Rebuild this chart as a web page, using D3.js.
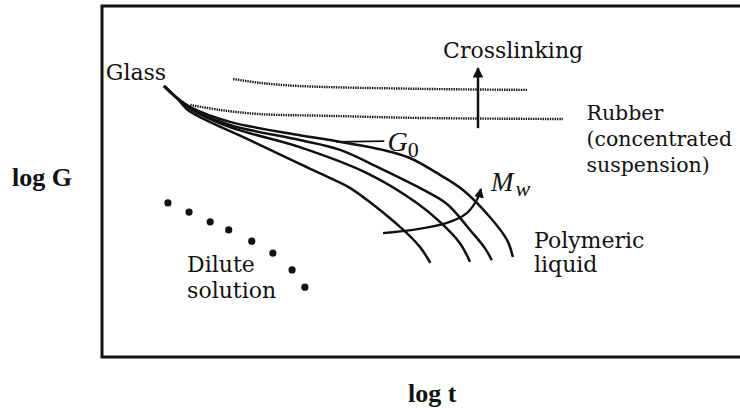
<!DOCTYPE html>
<html>
<head>
<meta charset="utf-8">
<script src="https://cdn.jsdelivr.net/npm/d3@7"></script>
<style>
  body { margin:0; background:#fff; }
  svg text { font-family:"DejaVu Serif",serif; fill:#111; }
  svg text.times { font-family:"Liberation Serif","Times New Roman",serif; }
</style>
</head>
<body>
<svg id="chart"></svg>
<script>
// values in (log t, log G) units, 0..10 on both axes

// polymeric liquid curves, lowest Mw first
var curveD = [[0.97,7.72],[1.17,7.38],[1.34,7.04],[2.31,6.18],[3.09,5.50],[3.56,5.10],[3.88,4.81],[4.66,3.70],[4.97,3.13],[5.13,2.68]];
var curveC = [[0.97,7.72],[1.17,7.38],[1.38,7.07],[2.00,6.55],[3.09,5.98],[4.14,5.24],[4.92,4.39],[5.28,3.85],[5.59,3.25],[5.75,2.71]];
var curveB = [[0.97,7.72],[1.17,7.38],[1.38,7.09],[2.00,6.61],[3.09,6.18],[3.72,5.90],[4.34,5.38],[4.97,4.81],[5.39,4.36],[5.75,3.62],[5.98,3.11],[6.09,2.76]];
var curveA = [[0.97,7.72],[1.17,7.38],[1.38,7.12],[2.00,6.70],[3.09,6.32],[3.56,6.18],[4.39,5.90],[4.81,5.67],[5.28,5.19],[5.64,4.76],[6.06,3.99],[6.33,3.33],[6.42,2.85]];
var liquidCurves = [curveD, curveC, curveB, curveA];

// rubber plateaus (dotted)
var rubberHigh = [[2.05,7.92],[2.47,7.81],[3.09,7.72],[4.97,7.64],[6.64,7.61]];
var rubberLow = [[1.38,7.18],[1.84,7.04],[2.47,6.92],[3.56,6.87],[4.97,6.81],[7.20,6.78]];

// dilute solution points
var diluteT = [1.03,1.36,1.69,1.98,2.34,2.67,2.97,3.17];
var diluteG = [4.39,4.13,3.85,3.62,3.30,2.96,2.48,1.99];

// arrows
var mwArrow = [[4.39,3.53],[4.86,3.62],[5.39,3.82],[5.70,4.10],[5.88,4.56],[5.92,4.79]];
var crossArrow = [[5.875,6.52],[5.875,8.23]];
var g0Pointer = [[3.66,6.13],[4.41,6.15]];

// plain labels: text, log t, log G
var labels = [
  ["Glass",0.06,7.89],
  ["Crosslinking",5.33,8.52],
  ["Dilute",1.33,2.42],
  ["solution",1.33,1.68],
  ["Polymeric",6.75,3.11],
  ["liquid",6.75,2.42]
];
var rubberLabels = [
  ["Rubber",7.57,6.75],
  ["(concentrated",7.57,6.01],
  ["suspension)",7.57,5.27]
];

var screen = {width:740, height:412};
var box = {left:102, top:6, right:745, bottom:357};

var svg = d3.select("#chart")
  .attr("width", screen.width)
  .attr("height", screen.height);

var xScale = d3.scaleLinear().domain([0,10]).range([box.left, 742]);
var yScale = d3.scaleLinear().domain([0,10]).range([box.bottom, box.top]);

svg.append("defs").append("marker")
  .attr("id","head")
  .attr("viewBox","0 0 10 10")
  .attr("refX",9).attr("refY",5)
  .attr("markerWidth",4.2).attr("markerHeight",4.2)
  .attr("orient","auto")
  .append("path")
  .attr("d","M0,0 L10,5 L0,10 z")
  .attr("fill","#111");

// frame
svg.append("rect")
  .attr("x",box.left).attr("y",box.top)
  .attr("width",box.right-box.left).attr("height",box.bottom-box.top)
  .attr("fill","none").attr("stroke","#111").attr("stroke-width",3);

var line = d3.line()
  .x(function(d){return xScale(d[0]);})
  .y(function(d){return yScale(d[1]);})
  .curve(d3.curveCatmullRom.alpha(0.5));

svg.selectAll(".liquid")
  .data(liquidCurves)
  .enter()
  .append("path")
  .attr("class","liquid")
  .attr("d",line)
  .attr("fill","none").attr("stroke","#111").attr("stroke-width",2.5);

svg.selectAll(".rubber")
  .data([rubberHigh, rubberLow])
  .enter()
  .append("path")
  .attr("class","rubber")
  .attr("d",line)
  .attr("fill","none").attr("stroke","#111")
  .attr("stroke-width",2.4).attr("stroke-dasharray","1.4,1");

svg.selectAll(".dilute")
  .data(diluteT)
  .enter()
  .append("circle")
  .attr("cx",function(d){return xScale(d);})
  .attr("cy",function(d,i){return yScale(diluteG[i]);})
  .attr("r",3.6)
  .attr("fill","#111");

svg.append("path").attr("d",line(mwArrow))
  .attr("fill","none").attr("stroke","#111").attr("stroke-width",2.3)
  .attr("marker-end","url(#head)");

svg.append("path").attr("d",d3.line()(crossArrow.map(function(d){return [xScale(d[0]),yScale(d[1])];})))
  .attr("fill","none").attr("stroke","#111").attr("stroke-width",2.5)
  .attr("marker-end","url(#head)");

svg.append("path").attr("d",d3.line()(g0Pointer.map(function(d){return [xScale(d[0]),yScale(d[1])];})))
  .attr("fill","none").attr("stroke","#111").attr("stroke-width",1.6);

svg.selectAll(".lab")
  .data(labels)
  .enter()
  .append("text")
  .attr("class","lab")
  .attr("x",function(d){return xScale(d[1]);})
  .attr("y",function(d){return yScale(d[2]);})
  .attr("font-size",22)
  .text(function(d){return d[0];});

svg.selectAll(".rlab")
  .data(rubberLabels)
  .enter()
  .append("text")
  .attr("class","rlab")
  .attr("x",function(d){return xScale(d[1]);})
  .attr("y",function(d){return yScale(d[2]);})
  .attr("font-size",20.5)
  .text(function(d){return d[0];});

// G0 and Mw
var g0 = svg.append("text").attr("class","times")
  .attr("x",xScale(4.46)).attr("y",yScale(5.86))
  .attr("font-size",28).attr("font-style","italic");
g0.append("tspan").text("G");
g0.append("tspan").attr("font-size",22).attr("font-style","normal").attr("dy",6).text("0");

var mw = svg.append("text").attr("class","times")
  .attr("x",xScale(6.08)).attr("y",yScale(4.74))
  .attr("font-size",27).attr("font-style","italic");
mw.append("tspan").text("M");
mw.append("tspan").attr("font-size",22).attr("dx",2).attr("dy",5).text("w");

// axis titles
svg.append("text").attr("class","times").attr("x",12).attr("y",186)
  .attr("font-size",26).attr("font-weight","bold").text("log G");
svg.append("text").attr("class","times").attr("x",408).attr("y",402)
  .attr("font-size",26).attr("font-weight","bold").text("log t");
</script>
</body>
</html>
